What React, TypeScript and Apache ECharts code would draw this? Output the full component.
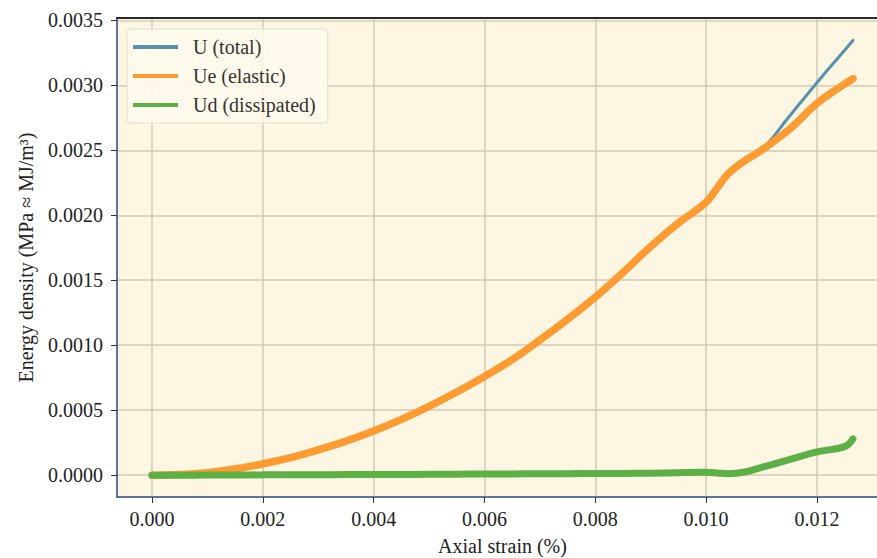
import { useEffect, useRef } from "react";
import * as echarts from "echarts";

const strain = [0, 0.0005, 0.001, 0.0015, 0.002, 0.0025, 0.003, 0.0035, 0.004, 0.0045, 0.005, 0.0055, 0.006, 0.0065, 0.007, 0.0075, 0.008, 0.0085, 0.009, 0.0095, 0.01, 0.0102, 0.0104, 0.0107, 0.011, 0.0115, 0.012, 0.0125, 0.01265];
const uElastic = [0, 0.000005, 0.00002, 0.000048, 0.000087, 0.000135, 0.000195, 0.000262, 0.00034, 0.00043, 0.00053, 0.00064, 0.00076, 0.00089, 0.00104, 0.0012, 0.00137, 0.00156, 0.00176, 0.00194, 0.0021, 0.00221, 0.00232, 0.00242, 0.0025, 0.00266, 0.00286, 0.00301, 0.00305];
const uTotal = [0, 0.000005, 0.00002, 0.000048, 0.000087, 0.000135, 0.000195, 0.000262, 0.00034, 0.00043, 0.00053, 0.00064, 0.00076, 0.00089, 0.00104, 0.0012, 0.00137, 0.00156, 0.00176, 0.00194, 0.0021, 0.00221, 0.00232, 0.00242, 0.0025, 0.00276, 0.00302, 0.00327, 0.003345];
const uDissipated = [0, 0, 0.000001, 0.000002, 0.000003, 0.000004, 0.000004, 0.000005, 0.000005, 0.000006, 0.000007, 0.000008, 0.000009, 0.00001, 0.000011, 0.000012, 0.000013, 0.000014, 0.000016, 0.00002, 0.000022, 0.000018, 0.000012, 0.000025, 0.00006, 0.00012, 0.00018, 0.00022, 0.00028];

const seriesNames = ["U (total)", "Ue (elastic)", "Ud (dissipated)"];
const seriesColors = ["#5592ad", "#ff9b30", "#5cb045"];
const xAxisName = "Axial strain (%)";
const yAxisName = "Energy density (MPa \u2248 MJ/m\u00b3)";
const xRange = [-0.0006325, 0.0132825];
const yRange = [-0.0001675, 0.0035175];

const FONT = "Liberation Serif";

export default function App() {
  const ref = useRef<HTMLDivElement>(null);
  useEffect(() => {
    if (!ref.current) return;
    const chart = echarts.init(ref.current, undefined, { renderer: "svg" });
    const pairs = (arr: number[]) => strain.map((x, i) => [x, arr[i]]);
    const values = [uTotal, uElastic, uDissipated];
    const widths = [3, 7.5, 7];
    chart.setOption({
      animation: false,
      backgroundColor: "#ffffff",
      textStyle: { fontFamily: FONT },
      grid: {
        left: 117,
        top: 18,
        right: -11,
        bottom: 61,
        outerBoundsMode: "none",
        containLabel: false,
        show: true,
        backgroundColor: "#fdf6e3",
        borderColor: "#3d5d9e",
        borderWidth: 1.5,
      },
      legend: {
        orient: "vertical",
        left: 127,
        top: 29,
        itemWidth: 45,
        itemHeight: 4,
        itemGap: 7,
        padding: [7, 12, 7, 6],
        backgroundColor: "rgba(255,250,236,0.85)",
        borderColor: "#e2dccb",
        borderWidth: 1,
        borderRadius: 4,
        icon: "rect",
        textStyle: { fontFamily: FONT, fontSize: 20, color: "#333", lineHeight: 22, padding: [0, 0, 0, 10] },
        data: seriesNames,
      },
      xAxis: [
        {
          type: "value",
          min: xRange[0],
          max: xRange[1],
          splitNumber: 7,
          name: xAxisName,
          nameLocation: "middle",
          nameGap: 39,
          nameTextStyle: { fontFamily: FONT, fontSize: 20, color: "#222" },
          axisLine: { show: true, onZero: false, lineStyle: { color: "#3d5d9e", width: 1.5 } },
          axisTick: { show: true, length: 6, lineStyle: { color: "#333", width: 1 } },
          axisLabel: {
            fontFamily: FONT,
            fontSize: 20,
            color: "#222",
            margin: 12,
            showMinLabel: false,
            showMaxLabel: false,
            formatter: (v: number) => v.toFixed(3),
          },
          splitLine: { show: true, lineStyle: { color: "#d3cab2", width: 1.5 } },
        },
        {
          type: "value",
          position: "top",
          min: xRange[0],
          max: xRange[1],
          axisLine: { show: true, onZero: false, lineStyle: { color: "#2a2a2a", width: 2 } },
          axisTick: { show: false },
          axisLabel: { show: false },
          splitLine: { show: false },
        },
      ],
      yAxis: {
        type: "value",
        min: yRange[0],
        max: yRange[1],
        splitNumber: 7,
        name: yAxisName,
        nameLocation: "middle",
        nameGap: 81,
        nameRotate: 90,
        nameTextStyle: { fontFamily: FONT, fontSize: 20, color: "#222" },
        axisLine: { show: true, onZero: false, lineStyle: { color: "#3d5d9e", width: 1.5 } },
        axisTick: { show: true, length: 6, lineStyle: { color: "#333", width: 1 } },
        axisLabel: {
          fontFamily: FONT,
          fontSize: 20,
          color: "#222",
          margin: 14,
          showMinLabel: false,
          showMaxLabel: false,
          formatter: (v: number) => v.toFixed(4),
        },
        splitLine: { show: true, lineStyle: { color: "#d3cab2", width: 1.5 } },
      },
      series: seriesNames.map((name, i) => ({
        name,
        type: "line",
        xAxisIndex: 0,
        data: pairs(values[i]),
        showSymbol: false,
        smooth: 0.4,
        color: seriesColors[i],
        lineStyle: { color: seriesColors[i], width: widths[i], cap: "round" },
        z: 2 + i,
      })),
    });
    return () => chart.dispose();
  }, []);
  return <div ref={ref} style={{ position: "fixed", left: 0, top: 0, width: 877, height: 558 }} />;
}
